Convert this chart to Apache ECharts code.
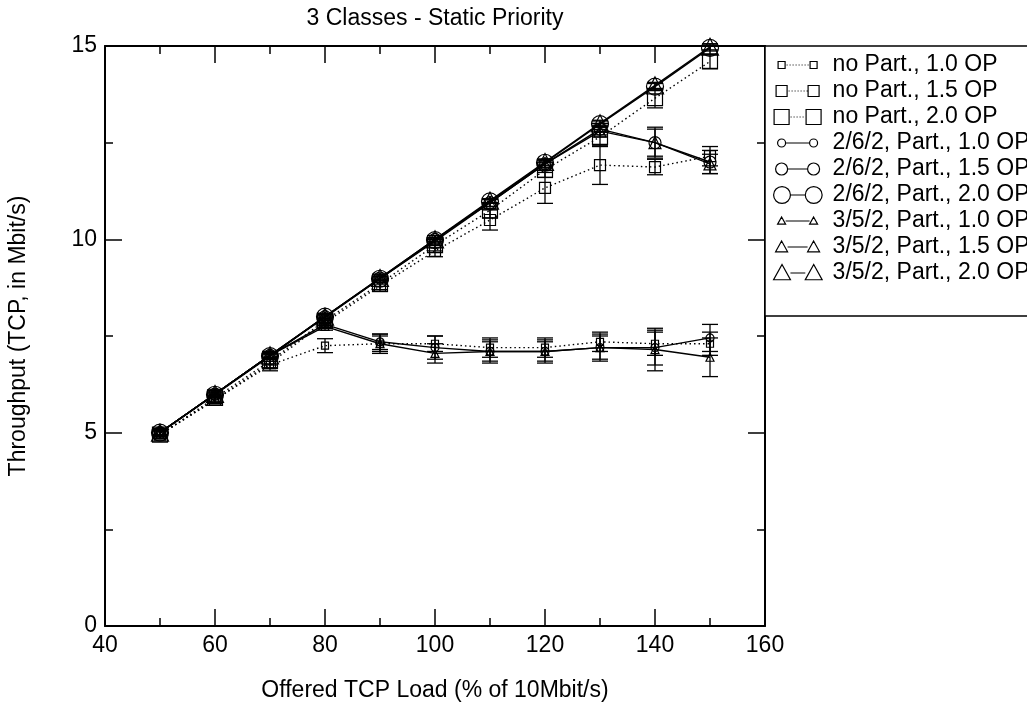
<!DOCTYPE html>
<html><head><meta charset="utf-8">
<script src="https://cdn.jsdelivr.net/npm/echarts@6/dist/echarts.min.js"></script>
<style>html,body{margin:0;padding:0;background:#fff}#c{width:1027px;height:704px}</style>
</head><body><div id="c"></div>
<script>
// Offered TCP load (% of 10 Mbit/s)
const loads = [50, 60, 70, 80, 90, 100, 110, 120, 130, 140, 150];
const xTicks = [40, 60, 80, 100, 120, 140, 160];
const yTicks = [0, 5, 10, 15];

// Throughput (Mbit/s)
const noPart10 = [4.95, 5.85, 6.75, 7.25, 7.3, 7.3, 7.2, 7.2, 7.35, 7.3, 7.3];
const noPart15 = [4.95, 5.85, 6.8, 7.85, 8.8, 9.7, 10.5, 11.33, 11.92, 11.87, 12.15];
const noPart20 = [4.95, 5.9, 6.85, 7.9, 8.85, 9.85, 10.75, 11.8, 12.65, 13.65, 14.6];
const p262_10 = [5, 6, 7, 7.8, 7.35, 7.2, 7.1, 7.1, 7.2, 7.2, 7.45];
const p262_15 = [5, 6, 7, 8, 9, 10, 10.95, 11.95, 12.85, 12.5, 12.0];
const p262_20 = [5, 5.98, 6.98, 8, 8.98, 9.98, 10.98, 11.98, 12.98, 13.95, 14.95];
const p352_10 = [5, 6, 7, 7.75, 7.3, 7.05, 7.1, 7.1, 7.2, 7.15, 6.95];
const p352_15 = [5, 6, 7, 7.98, 8.98, 9.95, 10.95, 11.95, 12.8, 12.5, 11.95];
const p352_20 = [5, 6, 7, 8, 9, 10, 11, 12, 13, 13.98, 14.98];

// Error bar half-widths
const eNoPart10 = [0.1, 0.1, 0.15, 0.18, 0.2, 0.2, 0.25, 0.25, 0.25, 0.3, 0.3];
const eNoPart15 = [0.1, 0.1, 0.12, 0.12, 0.15, 0.15, 0.26, 0.4, 0.5, 0.2, 0.25];
const eNoPart20 = [0.1, 0.1, 0.1, 0.12, 0.15, 0.15, 0.2, 0.2, 0.25, 0.25, 0.18];
const eP262_10 = [0.1, 0.1, 0.1, 0.1, 0.2, 0.3, 0.25, 0.25, 0.35, 0.45, 0.35];
const eP262_15 = [0.08, 0.08, 0.08, 0.08, 0.1, 0.1, 0.1, 0.1, 0.15, 0.4, 0.3];
const eP262_20 = [0.05, 0.05, 0.05, 0.05, 0.05, 0.05, 0.05, 0.08, 0.08, 0.08, 0.08];
const eP352_10 = [0.1, 0.1, 0.1, 0.1, 0.25, 0.25, 0.3, 0.3, 0.3, 0.55, 0.5];
const eP352_15 = [0.08, 0.08, 0.08, 0.08, 0.1, 0.1, 0.1, 0.1, 0.15, 0.35, 0.25];
const eP352_20 = [0.05, 0.05, 0.05, 0.05, 0.05, 0.05, 0.05, 0.08, 0.08, 0.08, 0.08];

const names = [
  'no Part., 1.0 OP', 'no Part., 1.5 OP', 'no Part., 2.0 OP',
  '2/6/2, Part., 1.0 OP', '2/6/2, Part., 1.5 OP', '2/6/2, Part., 2.0 OP',
  '3/5/2, Part., 1.0 OP', '3/5/2, Part., 1.5 OP', '3/5/2, Part., 2.0 OP'
];
const values = [noPart10, noPart15, noPart20, p262_10, p262_15, p262_20, p352_10, p352_15, p352_20];
const errors = [eNoPart10, eNoPart15, eNoPart20, eP262_10, eP262_15, eP262_20, eP352_10, eP352_15, eP352_20];
const shapes = ['rect', 'rect', 'rect', 'circle', 'circle', 'circle', 'triangle', 'triangle', 'triangle'];
const sizes = [7, 11, 15, 8, 12, 17, 8, 12, 17];
const dotted = [true, true, true, false, false, false, false, false, false];

const FONT = '"Liberation Sans", Arial, Helvetica, sans-serif';
const FS = 23;

function sym(shape, s, cx, cy) {
  const h = s / 2;
  if (shape === 'rect') return `M${cx - h} ${cy - h}h${s}v${s}h${-s}Z`;
  if (shape === 'circle') return `M${cx - h} ${cy}a${h} ${h} 0 1 0 ${s} 0a${h} ${h} 0 1 0 ${-s} 0Z`;
  return `M${cx} ${cy - h}L${cx + h} ${cy + h * 0.8}L${cx - h} ${cy + h * 0.8}Z`;
}
function icon(shape, s, dot) {
  const cy = 9, c1 = 8, c2 = 40;
  let p = 'M0 0h0.01M54 18h0.01' + sym(shape, s, c1, cy) + sym(shape, s, c2, cy);
  const x1 = c1 + s / 2, x2 = c2 - s / 2;
  if (dot) { for (let x = x1 + 1.5; x < x2 - 1; x += 3) p += `M${x} ${cy}h1`; }
  else p += `M${x1} ${cy}H${x2}`;
  return 'path://' + p;
}

const series = [];
names.forEach((name, k) => {
  const v = values[k], e = errors[k];
  series.push({
    type: 'custom', name: name + ' (error)', silent: true, z: 2,
    data: loads.map((x, i) => [x, v[i] - e[i], v[i] + e[i]]),
    encode: { x: 0, y: [1, 2] },
    renderItem: function (params, api) {
      const lo = api.coord([api.value(0), api.value(1)]);
      const hi = api.coord([api.value(0), api.value(2)]);
      const w = 8;
      const st = { stroke: '#000', lineWidth: 1.3 };
      return { type: 'group', children: [
        { type: 'line', shape: { x1: lo[0], y1: lo[1], x2: hi[0], y2: hi[1] }, style: st },
        { type: 'line', shape: { x1: lo[0] - w, y1: lo[1], x2: lo[0] + w, y2: lo[1] }, style: st },
        { type: 'line', shape: { x1: hi[0] - w, y1: hi[1], x2: hi[0] + w, y2: hi[1] }, style: st }
      ] };
    }
  });
  series.push({
    type: 'line', name: name, z: 3,
    data: loads.map((x, i) => [x, v[i]]),
    symbol: shapes[k], symbolSize: sizes[k], showSymbol: true,
    itemStyle: { color: 'transparent', borderColor: '#000', borderWidth: 1.2 },
    lineStyle: { color: '#000', width: 1.4, type: dotted[k] ? [1.5, 3] : 'solid' },
    emphasis: { disabled: true }
  });
});

const tickLine = { color: '#000', width: 1.5 };
function axisBase(extra) {
  return Object.assign({
    type: 'value',
    axisLine: { show: true, onZero: false, lineStyle: { color: '#000', width: 2 } },
    axisTick: { show: true, inside: true, length: 17, lineStyle: tickLine },
    minorTick: { show: true, splitNumber: 2, length: 8, lineStyle: tickLine },
    splitLine: { show: false },
    axisLabel: { color: '#000', fontSize: FS, fontFamily: FONT, margin: 8 }
  }, extra);
}

const chart = echarts.init(document.getElementById('c'), null, { renderer: 'canvas' });
chart.setOption({
  animation: false,
  backgroundColor: '#fff',
  textStyle: { fontFamily: FONT },
  title: {
    text: '3 Classes - Static Priority', left: 435, top: 7, textAlign: 'center', padding: 0,
    textStyle: { fontSize: FS, fontWeight: 'normal', color: '#000', fontFamily: FONT }
  },
  grid: { left: 105, right: 262, top: 46, bottom: 78, outerBoundsMode: 'none', containLabel: false },
  xAxis: [
    axisBase({ position: 'bottom', min: xTicks[0], max: xTicks[xTicks.length - 1], interval: 20,
      name: 'Offered TCP Load (% of 10Mbit/s)', nameLocation: 'middle', nameGap: 53,
      nameTextStyle: { fontSize: FS, color: '#000', fontFamily: FONT } }),
    axisBase({ position: 'top', min: xTicks[0], max: xTicks[xTicks.length - 1], interval: 20,
      axisLabel: { show: false } })
  ],
  yAxis: [
    axisBase({ position: 'left', min: yTicks[0], max: yTicks[yTicks.length - 1], interval: 5,
      name: 'Throughput (TCP, in Mbit/s)', nameLocation: 'middle', nameGap: 75,
      nameTextStyle: { fontSize: FS, color: '#000', fontFamily: FONT } }),
    axisBase({ position: 'right', min: yTicks[0], max: yTicks[yTicks.length - 1], interval: 5,
      axisLabel: { show: false } })
  ],
  legend: {
    orient: 'vertical', left: 765, top: 46,
    padding: [6, 40, 30, 8], itemGap: 0,
    itemWidth: 54, itemHeight: 18,
    borderColor: '#000', borderWidth: 1.5, backgroundColor: '#fff',
    selectedMode: false,
    itemStyle: { color: 'transparent', borderColor: '#000', borderWidth: 1.2 },
    textStyle: { fontSize: FS, color: '#000', fontFamily: FONT, lineHeight: 26 },
    data: names.map((n, k) => ({ name: n, icon: icon(shapes[k], sizes[k], dotted[k]) }))
  },
  series: series
});
</script>
</body></html>
